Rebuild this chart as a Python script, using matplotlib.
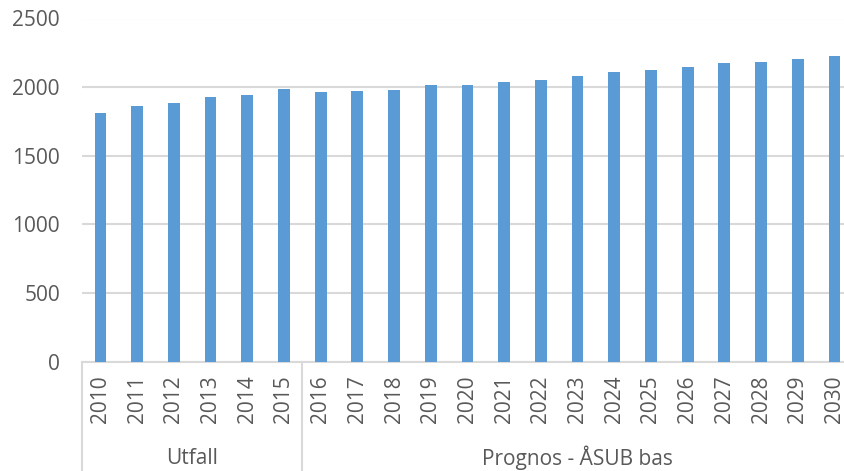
import matplotlib.pyplot as plt
import matplotlib.transforms as mtransforms
import numpy as np

# Values
years = [str(y) for y in range(2010, 2031)]
values = [1812, 1860, 1882, 1925, 1940, 1988, 1962, 1970, 1981, 2012,
          2017, 2041, 2053, 2083, 2107, 2126, 2150, 2174, 2186, 2203, 2225]
groups = ["Utfall", "Prognos - ÅSUB bas"]
group_sizes = [6, 15]
yticks = [0, 500, 1000, 1500, 2000, 2500]

plt.rcParams['font.family'] = ['Open Sans', 'DejaVu Sans']
text_col = '#595959'
grid_col = '#D9D9D9'

fig = plt.figure(figsize=(8.44, 4.71), dpi=100)
W, H = 844, 471
left, right = 82.1, 852.8
bottom, top = 361.7, 18.5
ax = fig.add_axes([left / W, (H - bottom) / H, (right - left) / W, (bottom - top) / H])

x = np.arange(len(years))
ax.bar(x, values, width=0.32, color='#5B9BD5', zorder=3)

ax.set_xlim(-0.5, len(years) - 0.5)
ax.set_ylim(0, 2500)
ax.set_yticks(yticks)
ax.set_yticklabels([str(v) for v in yticks], fontsize=15, color=text_col)
ax.yaxis.grid(True, color=grid_col, linewidth=1.5, zorder=0)
ax.tick_params(axis='y', length=0, pad=16)

ax.set_xticks(x)
ax.set_xticklabels(years, rotation=90, fontsize=15, color=text_col)
ax.tick_params(axis='x', length=0, pad=10)

for side in ['top', 'right', 'left']:
    ax.spines[side].set_visible(False)
ax.spines['bottom'].set_color(grid_col)
ax.spines['bottom'].set_linewidth(1.5)

# Group separators and labels under the year labels
trans = mtransforms.blended_transform_factory(ax.transData, ax.transAxes)
y_low = -(H - bottom) / (bottom - top)
y_lab = -(458 - bottom) / (bottom - top)
start = -0.5
for name, n in zip(groups, group_sizes):
    end = start + n
    ax.plot([start, start], [0, y_low], transform=trans, color=grid_col,
            linewidth=1.5, clip_on=False)
    ax.text((start + end) / 2, y_lab, name, transform=trans, ha='center',
            va='center', fontsize=15, color=text_col)
    start = end
ax.plot([start, start], [0, y_low], transform=trans, color=grid_col,
        linewidth=1.5, clip_on=False)

fig.savefig('out.png', dpi=100)
